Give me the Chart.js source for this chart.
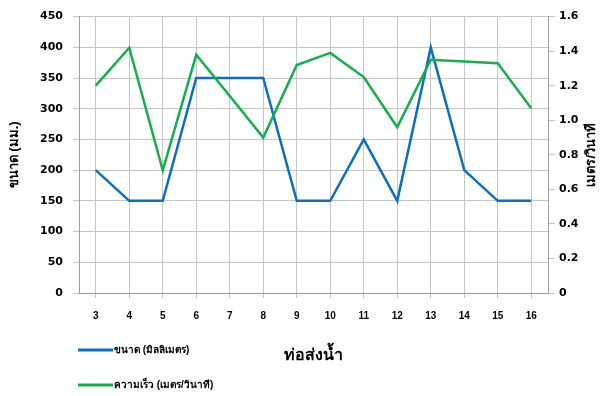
<!DOCTYPE html>
<html>
<head>
<meta charset="utf-8">
<script src="https://cdn.jsdelivr.net/npm/chart.js@4/dist/chart.umd.min.js"></script>
<style>
  html, body { margin: 0; padding: 0; background: #fff; }
  #wrap { width: 602px; height: 396px; position: relative; }
</style>
</head>
<body>
<div id="wrap"><canvas id="c" width="602" height="396"></canvas></div>
<script>
// Pipe numbers along the x axis
const pipes = ['3', '4', '5', '6', '7', '8', '9', '10', '11', '12', '13', '14', '15', '16'];
// Pipe diameter, millimetres (left axis)
const sizeMm = [200, 150, 150, 350, 350, 350, 150, 150, 250, 150, 400, 200, 150, 150];
// Flow speed, metres per second (right axis)
const speedMs = [1.20, 1.42, 0.71, 1.38, 1.14, 0.90, 1.32, 1.39, 1.25, 0.96, 1.35, 1.34, 1.33, 1.07];

const seriesNames = ['ขนาด (มิลลิเมตร)', 'ความเร็ว (เมตร/วินาที)'];
const xTitle = 'ท่อส่งน้ำ';
const leftTitle = 'ขนาด (มม.)';
const rightTitle = 'เมตร/วินาที';

const FONT = "'Liberation Sans', Arial, 'DejaVu Sans', sans-serif";
const TICK_FONT = "'DejaVu Sans', Verdana, sans-serif";
const BLUE = '#0b6fc3';
const GREEN = '#13b04b';
const GRID = '#c6c6c6';
const AXIS = '#9e9e9e';

// Right-hand axis title (reads bottom-to-top) and the two-row legend
const extras = {
  id: 'extras',
  afterDraw(chart) {
    const ctx = chart.ctx;
    const area = chart.chartArea;
    ctx.save();
    ctx.fillStyle = '#000';
    ctx.font = 'bold 13px ' + FONT;
    ctx.textAlign = 'center';
    ctx.textBaseline = 'middle';
    ctx.translate(591, (area.top + area.bottom) / 2);
    ctx.rotate(-Math.PI / 2);
    ctx.fillText(rightTitle, 0, 0);
    ctx.restore();

    const rows = [350, 385];
    chart.data.datasets.forEach((ds, i) => {
      const y = rows[i];
      ctx.save();
      ctx.strokeStyle = ds.borderColor;
      ctx.lineWidth = 3;
      ctx.beginPath();
      ctx.moveTo(78, y);
      ctx.lineTo(113, y);
      ctx.stroke();
      ctx.fillStyle = '#000';
      ctx.font = 'bold 10px ' + FONT;
      ctx.textAlign = 'left';
      ctx.textBaseline = 'middle';
      ctx.fillText(ds.label, 114, y);
      ctx.restore();
    });
  }
};

new Chart(document.getElementById('c'), {
  type: 'line',
  data: {
    labels: pipes,
    datasets: [
      {
        label: seriesNames[0],
        data: sizeMm,
        yAxisID: 'y',
        borderColor: BLUE,
        backgroundColor: BLUE,
        borderWidth: 2.5,
        pointRadius: 0,
        tension: 0,
        order: 1
      },
      {
        label: seriesNames[1],
        data: speedMs,
        yAxisID: 'y1',
        borderColor: GREEN,
        backgroundColor: GREEN,
        borderWidth: 2.5,
        pointRadius: 0,
        tension: 0,
        order: 0
      }
    ]
  },
  options: {
    responsive: false,
    animation: false,
    layout: { padding: { top: 12.5, left: 0, right: 0, bottom: 0 } },
    plugins: {
      legend: { display: false },
      tooltip: { enabled: false }
    },
    scales: {
      x: {
        offset: true,
        grid: { color: GRID, tickLength: 5, offset: false },
        border: { color: AXIS },
        ticks: { color: '#000', font: { family: FONT, size: 10, weight: 'bold' }, padding: 12, maxRotation: 0 },
        title: {
          display: true, text: xTitle, color: '#000',
          font: { family: FONT, size: 16, weight: 'bold' },
          padding: { top: 0, bottom: 31 }
        },
        afterFit(s) { s.height = 396 - 293; }
      },
      y: {
        position: 'left',
        min: 0, max: 450,
        ticks: { stepSize: 50, color: '#000', font: { family: TICK_FONT, size: 11, weight: 'bold' }, padding: 10 },
        grid: { color: GRID, tickLength: 6 },
        border: { color: AXIS },
        title: {
          display: true, text: leftTitle, color: '#000',
          font: { family: FONT, size: 13, weight: 'bold' },
          padding: { top: 7, bottom: 0 }
        },
        afterFit(s) { s.width = 79; }
      },
      y1: {
        position: 'right',
        min: 0, max: 1.6,
        ticks: { stepSize: 0.2, color: '#000', font: { family: TICK_FONT, size: 11, weight: 'bold' }, padding: 4 },
        grid: { drawOnChartArea: false, color: GRID, tickLength: 7 },
        border: { color: AXIS },
        afterFit(s) { s.width = 602 - 548; }
      }
    }
  },
  plugins: [extras]
});
</script>
</body>
</html>
